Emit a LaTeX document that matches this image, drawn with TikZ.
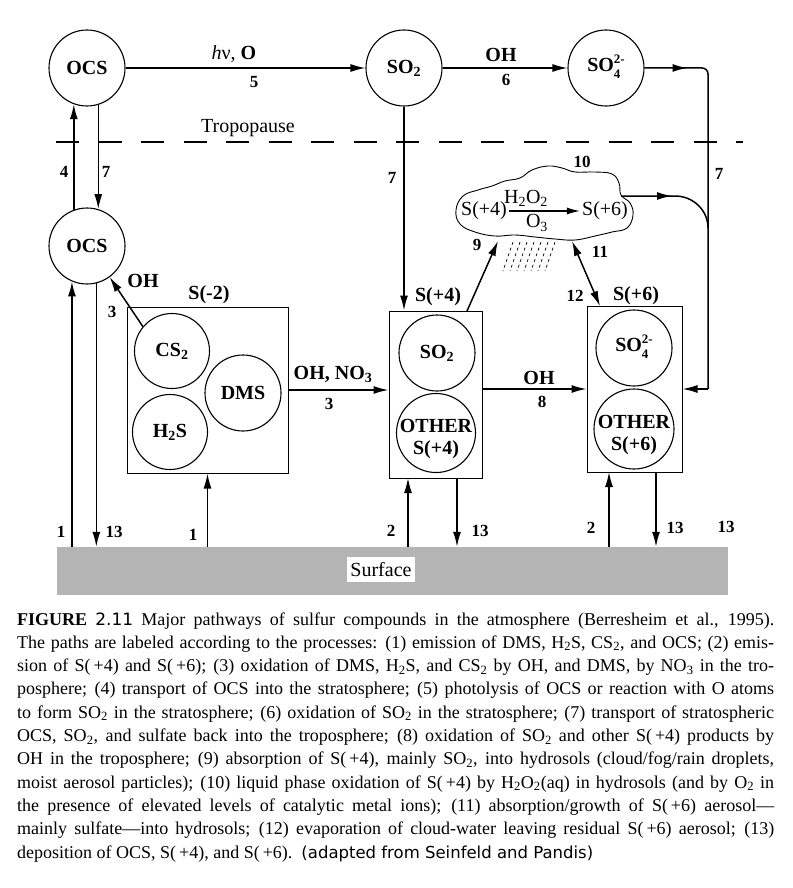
\documentclass[tikz,border=0pt]{standalone}
\usepackage{fontspec}
\setmainfont{Liberation Serif}
\newfontfamily\sansfam{DejaVu Sans}
\usetikzlibrary{arrows.meta,decorations.markings,calc}
\newcommand\sofour{SO\raisebox{0.05ex}{\fontsize{13}{15.5}\selectfont\def\arraystretch{1}\begin{tabular}[c]{@{}l@{}}2-\\4\end{tabular}}}
\newcommand\sbs[1]{\textsubscript{#1}}
\tikzset{
  circ/.style={circle,draw,line width=1.1pt,minimum size=76pt,inner sep=0pt,font=\fontsize{20}{21}\selectfont\bfseries},
  boxnode/.style={draw,line width=1pt,inner sep=0pt},
  tip/.tip={Latex[length=15pt,width=8pt]},
  arr/.style={line width=1.5pt,-tip},
  darr/.style={line width=1.5pt,tip-tip},
  plain/.style={line width=1.5pt},
  num/.style={font=\fontsize{17}{20}\selectfont\bfseries,inner sep=0pt},
  lbl/.style={font=\fontsize{20}{22}\selectfont\bfseries,inner sep=0pt},
  rlbl/.style={font=\fontsize{20}{22}\selectfont,inner sep=0pt},
  midarr/.style={postaction={decorate},decoration={markings,mark=at position #1 with {\arrow{tip}}}},
  captxt/.style={anchor=base west,inner sep=0pt,font=\fontsize{18}{23}\selectfont},
}
\begin{document}
\begin{tikzpicture}[x=1pt,y=-1pt]
\useasboundingbox (0,0) rectangle (792,888);

% surface
\node[fill={rgb,255:red,180;green,180;blue,180},inner sep=0pt,minimum width=671pt,minimum height=48pt] (surf) at (392.5,571) {};
\node[fill=white,inner sep=0pt,minimum width=68pt,minimum height=25pt,font=\fontsize{20}{22}\selectfont] (surftxt) at (381,569.5) {Surface};

% tropopause
\coordinate (tpL) at (56,142);
\coordinate (tpR) at (743,142);
\draw[line width=1.2pt,dash pattern=on 23pt off 19.5pt] (tpL) -- (tpR);
\node[rlbl,anchor=base] (tptxt) at (248,132) {Tropopause};

% top circles
\node[circ] (ocs1) at (87,68) {OCS};
\node[circ] (so2t) at (404,68) {SO\sbs{2}};
\node[circ] (so4t) at (606,68) {\sofour};
\node[circ] (ocs2) at (87,246) {OCS};

% boxes
\node[boxnode,minimum width=161pt,minimum height=166pt] (s2box) at (207.5,390) {};
\node[boxnode,minimum width=93pt,minimum height=167pt] (s4box) at (435.5,394.5) {};
\node[boxnode,minimum width=95pt,minimum height=166pt] (s6box) at (634.5,389) {};

% inner circles
\node[circ,minimum size=75pt] (cs2) at (172,351) {CS\sbs{2}};
\node[circ,minimum size=75pt] (h2s) at (170,432) {H\sbs{2}S};
\node[circ] (dms) at (243,393) {DMS};
\node[circ] (so2b) at (437,353) {SO\sbs{2}};
\node[circ,minimum size=79pt,label={[lbl,align=center,yshift=-6pt]center:OTHER\\S(+4)}] (oth4) at (436,433) {};
\node[circ] (so4b) at (634,348) {\sofour};
\node[circ,minimum size=80pt,label={[lbl,align=center,yshift=-6pt]center:OTHER\\S(+6)}] (oth6) at (634,429) {};

% box labels
\node[lbl] (ls2) at (209,295) {S(-2)};
\node[lbl] (ls4) at (438,297) {S(+4)};
\node[lbl] (ls6) at (636,296) {S(+6)};

% cloud
\draw[line width=0.9pt] plot[smooth cycle,tension=0.7] coordinates {
 (456,210) (463,196) (478,190) (492,186) (505,181) (520,178) (532,170) (548,166)
 (562,168) (575,172) (595,172) (612,174) (619,183) (621,195) (630,203) (633,215)
 (627,228) (612,232) (595,236) (575,240) (555,239) (535,237) (515,235) (495,236)
 (475,232) (460,224)};
\foreach \i in {0,...,6}
  \draw[line width=0.7pt,dash pattern=on 3pt off 3pt] (513+7*\i,242) -- (503+7*\i,271);
\node[rlbl,inner sep=2pt] (c4) at (484,211) {S(+4)};
\node[rlbl,inner sep=2pt] (c6) at (605,211) {S(+6)};
\draw[line width=1.2pt,-{Latex[length=13pt,width=7pt]}] (c4.east) -- (c6.west);
\node[rlbl] (h2o2) at (526,198) {H\sbs{2}O\sbs{2}};
\node[rlbl] (o3) at (537,223) {O\sbs{3}};
\node[num] (n10) at (582,162) {10};
\coordinate (cl9) at (498,241);
\coordinate (cl11) at (572,241);
\coordinate (cl6) at (621,196);

% connectors
\draw[arr] (ocs1.east) -- (so2t.west);
\node[rlbl] (l5a) at (234,54) {\textit{h}ν,\ \textbf{O}};
\node[num] (l5b) at (254,82) {5};
\draw[arr] (so2t.east) -- (so4t.west);
\node[lbl] (l6a) at (501,55) {OH};
\node[num] (l6b) at (506,80) {6};

\coordinate (r1) at (702,68);
\coordinate (r2) at (708,74);
\coordinate (r3) at (708,389);
\draw[plain,midarr=43pt] (so4t.east) -- (r1) to[out=0,in=90] (r2) -- (r3);
\draw[arr] (r3) -- (s6box.east |- r3);
\node[num] (l7r) at (719,174) {7};
\coordinate (k1) at (675,196);
\coordinate (k2) at (708,228);
\draw[plain,midarr=51pt] (cl6) -- (k1) to[out=0,in=90] (k2);

\draw[arr] (ocs2.110) -- (ocs1.250);
\draw[arr] (ocs1.287) -- (ocs2.73);
\node[num] (l4) at (64,172) {4};
\node[num] (l7a) at (106,172) {7};

\draw[arr] (ocs2.247 |- surf.north) -- (ocs2.247);
\draw[arr] (ocs2.284) -- (ocs2.284 |- surf.north);
\node[num] (l1a) at (61,532) {1};
\node[num] (l13a) at (114,532) {13};

\draw[arr] (cs2.140) -- (ocs2.306);
\node[lbl] (l3oh) at (143,281) {OH};
\node[num] (l3a) at (112,312) {3};

\draw[arr] (s2box.south |- surf.north) -- (s2box.south);
\node[num] (l1b) at (193,535) {1};

\draw[arr] (s2box.east) -- (s2box.east -| s4box.west);
\node[lbl] (l3b) at (333,374) {OH, NO\sbs{3}};
\node[num] (l3c) at (329,404) {3};

\draw[arr] (so2t.south) -- (so2t.south |- s4box.north);
\node[num] (l7b) at (392,178) {7};

\draw[arr] (s6box.west -| s4box.east) -- (s6box.west);
\node[lbl] (l8a) at (539,378) {OH};
\node[num] (l8b) at (542,402) {8};

\coordinate (a9) at (467,311);
\draw[arr] (a9) -- (cl9);
\node[num] (l9) at (477,245) {9};
\coordinate (a11) at (600,306);
\draw[darr] (cl11) -- (a11);
\node[num] (l11) at (600,252) {11};
\node[num] (l12) at (575,296) {12};

\coordinate (b2a) at (408,478);
\coordinate (b13a) at (457,478);
\draw[arr] (b2a |- surf.north) -- (b2a);
\draw[arr] (b13a) -- (b13a |- surf.north);
\node[num] (l2a) at (391,531) {2};
\node[num] (l13b) at (480,531) {13};
\coordinate (b2b) at (609,472);
\coordinate (b13b) at (656,472);
\draw[arr] (b2b |- surf.north) -- (b2b);
\draw[arr] (b13b) -- (b13b |- surf.north);
\node[num] (l2b) at (591,528) {2};
\node[num] (l13c) at (675,528) {13};
\node[num] (l13d) at (726,527) {13};

% caption
\node[captxt] (cap1) at (17,625) {\makebox[757pt][s]{\textbf{FIGURE} {\sansfam\fontsize{17}{20}\selectfont 2.11} Major pathways of sulfur compounds in the atmosphere (Berresheim et al., 1995).}};
\node[captxt] (cap2) at (17,648.3) {\makebox[757pt][s]{The paths are labeled according to the processes: (1) emission of DMS, H\sbs{2}S, CS\sbs{2}, and OCS; (2) emis-}};
\node[captxt] (cap3) at (17,671.6) {\makebox[757pt][s]{sion of S(\,+4) and S(\,+6); (3) oxidation of DMS, H\sbs{2}S, and CS\sbs{2} by OH, and DMS, by NO\sbs{3} in the tro-}};
\node[captxt] (cap4) at (17,694.9) {\makebox[757pt][s]{posphere; (4) transport of OCS into the stratosphere; (5) photolysis of OCS or reaction with O atoms}};
\node[captxt] (cap5) at (17,718.2) {\makebox[757pt][s]{to form SO\sbs{2} in the stratosphere; (6) oxidation of SO\sbs{2} in the stratosphere; (7) transport of stratospheric}};
\node[captxt] (cap6) at (17,741.5) {\makebox[757pt][s]{OCS, SO\sbs{2}, and sulfate back into the troposphere; (8) oxidation of SO\sbs{2} and other S(\,+4) products by}};
\node[captxt] (cap7) at (17,764.8) {\makebox[757pt][s]{OH in the troposphere; (9) absorption of S(\,+4), mainly SO\sbs{2}, into hydrosols (cloud/fog/rain droplets,}};
\node[captxt] (cap8) at (17,788.1) {\makebox[757pt][s]{moist aerosol particles); (10) liquid phase oxidation of S(\,+4) by H\sbs{2}O\sbs{2}(aq) in hydrosols (and by O\sbs{2} in}};
\node[captxt] (cap9) at (17,811.4) {\makebox[757pt][s]{the presence of elevated levels of catalytic metal ions); (11) absorption/growth of S(\,+6) aerosol—}};
\node[captxt] (cap10) at (17,834.7) {\makebox[757pt][s]{mainly sulfate—into hydrosols; (12) evaporation of cloud-water leaving residual S(\,+6) aerosol; (13)}};
\node[captxt] (cap11) at (17,858) {deposition of OCS, S(\,+4), and S(\,+6).\ \ {\sansfam\fontsize{16.5}{20}\selectfont (adapted from Seinfeld and Pandis)}};
\end{tikzpicture}
\end{document}
